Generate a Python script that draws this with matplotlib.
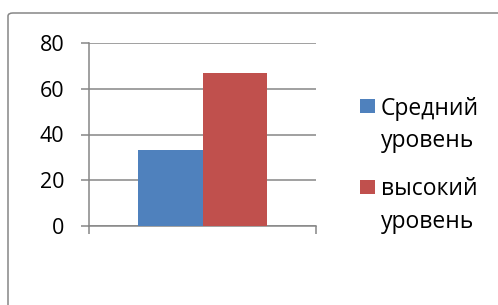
import matplotlib
matplotlib.use("Agg")
import matplotlib.pyplot as plt
from matplotlib.patches import Rectangle, FancyBboxPatch

# Data
categories = [""]
series_names = ["Средний\nуровень", "высокий\nуровень"]
series_values = [33.3, 66.7]
series_colors = ["#4F81BD", "#C0504D"]
yticks = [0, 20, 40, 60, 80]

W, H = 498, 305
plt.rcParams['font.family'] = ['Open Sans', 'DejaVu Sans']
fig = plt.figure(figsize=(W / 100, H / 100), dpi=100)

def fx(x):
    return x / W

def fy(y):
    return 1 - y / H

gray = "#868686"

# outer chart border (extends beyond the image at right/bottom)
border = FancyBboxPatch((fx(8), fy(330)), fx(540) - fx(8), fy(13) - fy(330),
                        boxstyle="round,pad=0,rounding_size=0.01",
                        transform=fig.transFigure, facecolor="none",
                        edgecolor=gray, linewidth=1.1, clip_on=False)
fig.patches.append(border)

ax = fig.add_axes([fx(89), fy(226), fx(316) - fx(89), fy(43) - fy(226)])

bw = 0.286
n = len(series_values)
for i, (name, val, col) in enumerate(zip(series_names, series_values, series_colors)):
    off = (i - (n - 1) / 2) * bw
    ax.bar(0 + off, val, width=bw, color=col, zorder=3, label=name)

ax.set_xlim(-0.5, 0.5)
ax.set_ylim(0, 80)
ax.set_yticks(yticks)
ax.set_yticklabels([str(t) for t in yticks], fontsize=15.5, color="#000000")
ax.yaxis.grid(True, color=gray, linewidth=1.1, zorder=0)
ax.set_axisbelow(True)
ax.tick_params(axis='y', length=5.8, width=1.1, color=gray, pad=12)
ax.set_xticks([])
ax.set_xticks([-0.5, 0.5], minor=True)
ax.tick_params(axis='x', which='minor', length=5.8, width=1.1, color=gray)
ax.tick_params(axis='x', which='major', length=0)
for s in ["top", "right"]:
    ax.spines[s].set_visible(False)
for s in ["left", "bottom"]:
    ax.spines[s].set_color(gray)
    ax.spines[s].set_linewidth(1.1)

# legend (manual, Excel-like: marker aligned with first line)
leg_square_tops = [99, 180]
leg_baselines = [[115, 147], [195, 228]]
for i, (name, col) in enumerate(zip(series_names, series_colors)):
    top = leg_square_tops[i]
    fig.patches.append(Rectangle((fx(360), fy(top + 14)), fx(375) - fx(360), fy(top) - fy(top + 14),
                                 transform=fig.transFigure, facecolor=col, edgecolor="none"))
    for line, base in zip(name.split("\n"), leg_baselines[i]):
        fig.text(fx(381), fy(base), line, fontsize=16.5, va='baseline', ha='left',
                 color="#000000")

fig.savefig("out.png", dpi=100, facecolor="white")
